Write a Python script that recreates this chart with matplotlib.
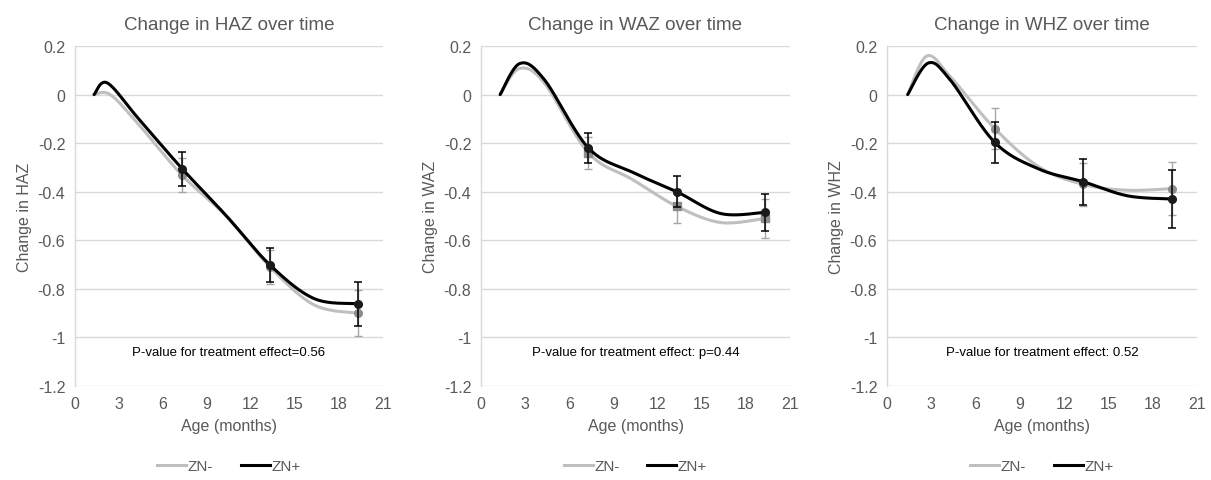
import numpy as np
import matplotlib
matplotlib.use("Agg")
import matplotlib.pyplot as plt
from matplotlib.lines import Line2D

plt.rcParams['font.family'] = ['Liberation Sans', 'DejaVu Sans']
plt.rcParams['axes.unicode_minus'] = False

# ---------------- data ----------------
titles = ["Change in HAZ over time", "Change in WAZ over time", "Change in WHZ over time"]
ylabels = ["Change in HAZ", "Change in WAZ", "Change in WHZ"]
pvalue_texts = ["P-value for treatment effect=0.56",
                "P-value for treatment effect: p=0.44",
                "P-value for treatment effect: 0.52"]
series_names = ["ZN-", "ZN+"]

# visits with markers / error bars
marked_ages = [7.3, 13.3, 19.3]

# full line points (age in months, change in z-score)
haz_neg_x = [1.3, 2.4, 4.3, 7.3, 10.3, 13.3, 16.3, 19.3]
haz_neg_y = [0.0, 0.0, -0.12, -0.332, -0.50, -0.71, -0.866, -0.90]
haz_pos_x = [1.3, 2.2, 4.3, 7.3, 10.3, 13.3, 16.3, 19.3]
haz_pos_y = [0.0, 0.048, -0.097, -0.305, -0.498, -0.702, -0.84, -0.861]

waz_neg_x = [1.3, 2.6, 4.3, 7.3, 10.3, 13.3, 16.3, 19.3]
waz_neg_y = [0.0, 0.107, 0.048, -0.24, -0.35, -0.46, -0.527, -0.51]
waz_pos_x = [1.3, 2.64, 4.3, 7.3, 10.3, 13.3, 16.3, 19.3]
waz_pos_y = [0.0, 0.128, 0.062, -0.22, -0.32, -0.40, -0.49, -0.485]

whz_neg_x = [1.4, 2.7, 4.3, 7.3, 10.3, 13.3, 16.3, 19.3]
whz_neg_y = [0.0, 0.159, 0.073, -0.14, -0.298, -0.37, -0.394, -0.387]
whz_pos_x = [1.4, 2.8, 4.3, 7.3, 10.3, 13.3, 16.3, 19.3]
whz_pos_y = [0.0, 0.13, 0.059, -0.197, -0.307, -0.359, -0.417, -0.43]

# error bar half-widths at the marked visits
haz_neg_err = [0.07, 0.07, 0.095]
haz_pos_err = [0.07, 0.07, 0.09]
waz_neg_err = [0.065, 0.07, 0.08]
waz_pos_err = [0.063, 0.063, 0.075]
whz_neg_err = [0.085, 0.09, 0.11]
whz_pos_err = [0.085, 0.095, 0.118]

panels = [
    (haz_neg_x, haz_neg_y, haz_neg_err, haz_pos_x, haz_pos_y, haz_pos_err, 'o'),
    (waz_neg_x, waz_neg_y, waz_neg_err, waz_pos_x, waz_pos_y, waz_pos_err, 's'),
    (whz_neg_x, whz_neg_y, whz_neg_err, whz_pos_x, whz_pos_y, whz_pos_err, 'o'),
]

x_ticks = [0, 3, 6, 9, 12, 15, 18, 21]
y_ticks = [-1.2, -1.0, -0.8, -0.6, -0.4, -0.2, 0.0, 0.2]
y_tick_labels = ["-1.2", "-1", "-0.8", "-0.6", "-0.4", "-0.2", "0", "0.2"]

# --------------- helpers ---------------
def excel_smooth(x, y, sx, sy, n=60):
    """Bezier smoothing like a spreadsheet 'smoothed line' (screen-space)."""
    P = np.column_stack([np.asarray(x, float) * sx, np.asarray(y, float) * sy])
    out = []
    for i in range(len(P) - 1):
        p0 = P[i - 1] if i > 0 else P[i]
        p1, p2 = P[i], P[i + 1]
        p3 = P[i + 2] if i + 2 < len(P) else P[i + 1]
        c1 = p1 + (p2 - p0) / 6.0
        c2 = p2 - (p3 - p1) / 6.0
        t = np.linspace(0, 1, n)[:, None]
        seg = (1 - t) ** 3 * p1 + 3 * (1 - t) ** 2 * t * c1 + 3 * (1 - t) * t ** 2 * c2 + t ** 3 * p2
        out.append(seg if i == 0 else seg[1:])
    arr = np.vstack(out)
    return arr[:, 0] / sx, arr[:, 1] / sy


def marked(xs, ys):
    mx, my = [], []
    for a in marked_ages:
        j = int(np.argmin(np.abs(np.asarray(xs) - a)))
        mx.append(xs[j])
        my.append(ys[j])
    return mx, my


W, H = 1211, 481
fig = plt.figure(figsize=(W / 100, H / 100), dpi=100)

axes_px = [(75, 308), (481, 309), (887, 310)]
top_px, bot_px = 47, 387

text_grey = '#595959'
grid_col = '#D9D9D9'
neg_line = '#BFBFBF'
neg_mark = '#8C8C8C'
neg_err = '#A6A6A6'
pos_line = '#000000'
pos_mark = '#1A1A1A'

for k, (nx, ny, ne, px, py, pe, mk) in enumerate(panels):
    left, width = axes_px[k]
    ax = fig.add_axes([left / W, (H - bot_px) / H, width / W, (bot_px - top_px) / H])
    ax.set_xlim(0, 21)
    ax.set_ylim(-1.2, 0.2)
    sx = width / 21.0
    sy = (bot_px - top_px) / 1.4

    for v in y_ticks:
        ax.axhline(v, color=grid_col, lw=1.0, zorder=0)

    # ZN- (grey)
    gx, gy = excel_smooth(nx, ny, sx, sy)
    ax.plot(gx, gy, color=neg_line, lw=2.2, solid_capstyle='round', zorder=2)
    mx, my = marked(nx, ny)
    ax.errorbar(mx, my, yerr=ne, fmt=mk, color=neg_mark, ms=5.5,
                ecolor=neg_err, elinewidth=1.0, capsize=3, capthick=1.0, zorder=3)
    # ZN+ (black)
    bx, by = excel_smooth(px, py, sx, sy)
    ax.plot(bx, by, color=pos_line, lw=2.2, solid_capstyle='round', zorder=4)
    mx, my = marked(px, py)
    ax.errorbar(mx, my, yerr=pe, fmt='o', color=pos_mark, ms=5.5,
                ecolor='#000000', elinewidth=1.1, capsize=3, capthick=1.1, zorder=5)

    ax.set_xticks(x_ticks)
    ax.set_xticklabels([str(t) for t in x_ticks])
    ax.set_yticks(y_ticks)
    ax.set_yticklabels(y_tick_labels)
    ax.tick_params(length=0, labelsize=11.5, colors=text_grey, pad=7)
    for s in ['top', 'right', 'bottom']:
        ax.spines[s].set_visible(False)
    ax.spines['left'].set_color(grid_col)
    ax.spines['left'].set_linewidth(1.0)

    ax.set_title(titles[k], fontsize=13.5, color=text_grey, pad=12)
    ax.set_xlabel("Age (months)", fontsize=11.5, color=text_grey, labelpad=5)
    ax.set_ylabel(ylabels[k], fontsize=11.5, color=text_grey, labelpad=4)
    ax.text(10.5, -1.06, pvalue_texts[k], fontsize=9.5, color='black', ha='center', va='center')

    handles = [Line2D([], [], color=neg_line, lw=2.2), Line2D([], [], color=pos_line, lw=2.2)]
    cx = (left + width / 2) / W
    fig.legend(handles, series_names, loc='center', bbox_to_anchor=(cx, 14 / H), ncol=2,
               frameon=False, fontsize=11, handlelength=1.9, handletextpad=0.1,
               columnspacing=1.8, labelcolor=text_grey)

fig.savefig("out.png", dpi=100)
